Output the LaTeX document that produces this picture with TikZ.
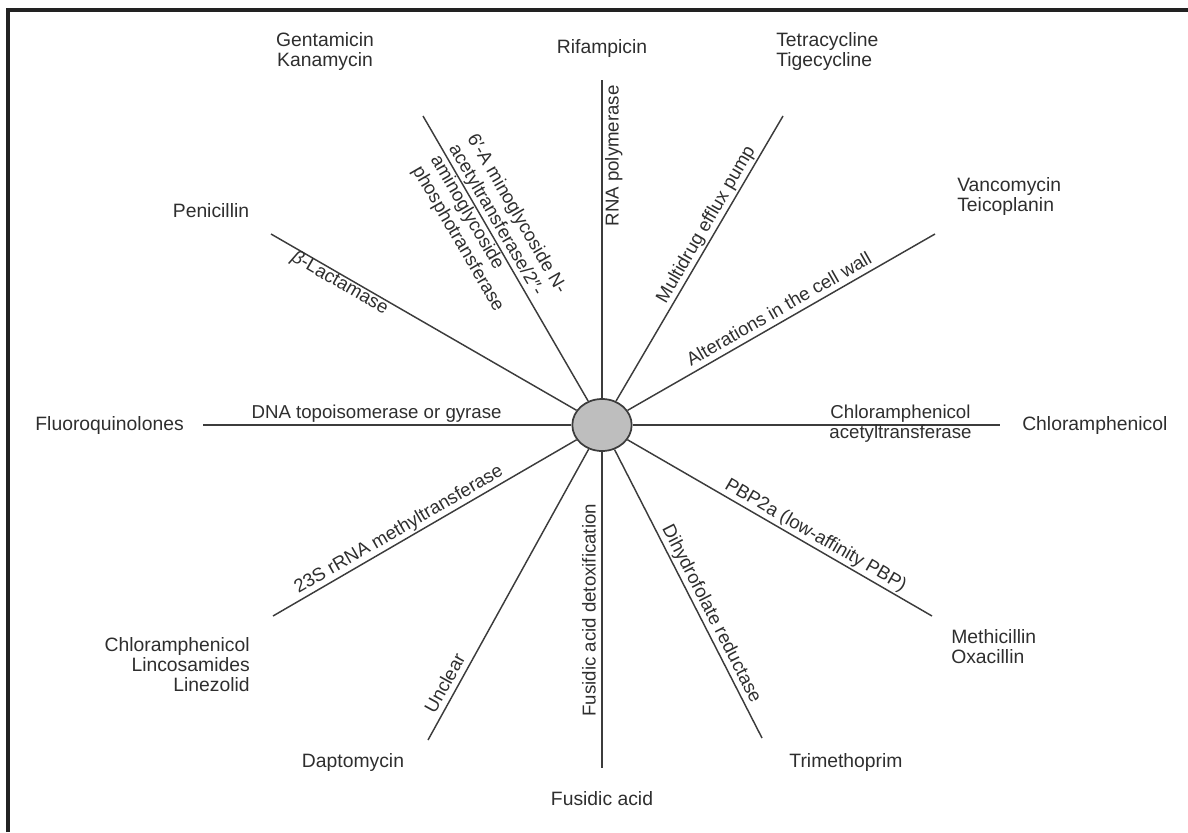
\documentclass[tikz,border=0pt]{standalone}
\usepackage{fontspec}
\setmainfont{Liberation Sans}
\usetikzlibrary{calc,shapes.geometric}
\definecolor{ink}{HTML}{2E2E2E}
\definecolor{spokecol}{HTML}{3C3C3C}
\definecolor{hubfill}{HTML}{BEBEBE}
\definecolor{framecol}{HTML}{222222}
\begin{document}
\begin{tikzpicture}[x=0.75pt,y=-0.75pt,
  drug/.style={font=\fontsize{14.5}{15}\selectfont, text=ink, inner sep=0pt},
  mech/.style={font=\fontsize{14}{15.8}\selectfont, text=ink, inner xsep=0pt, inner ysep=2.5pt},
  mechone/.style={mech, text height=0.72em, text depth=0.2em},
  spokeline/.style={draw=spokecol, line width=1.1pt},
  hub/.style={ellipse, draw=spokecol, line width=1.3pt, fill=hubfill,
    minimum width=44.5pt, minimum height=39pt, inner sep=0pt}]
\useasboundingbox (0,0) rectangle (1188,832);

% frame (top and left edges)
\draw[framecol, line width=3pt] (8,832) -- (8,10.3) -- (1188,10.3);

% central hub
\node[hub] (hub) at (602,425) {};

% outer ends of the spokes
\coordinate (eRif) at (602,80);
\coordinate (eTet) at (783,116);
\coordinate (eVan) at (935,234);
\coordinate (eChlR) at (1000,425);
\coordinate (eMet) at (932,616);
\coordinate (eTri) at (762,738);
\coordinate (eFus) at (602,768);
\coordinate (eDap) at (428,740);
\coordinate (eLin) at (273,616);
\coordinate (eFlu) at (203,425);
\coordinate (ePen) at (271,234);
\coordinate (eGen) at (423,116);

\foreach \e in {eRif,eTet,eVan,eChlR,eMet,eTri,eFus,eDap,eLin,eFlu,ePen,eGen}
  \draw[spokeline] (hub) -- (\e);

% resistance mechanisms along the spokes
\node[mechone, rotate=90, anchor=north, inner ysep=5pt] (mRif) at ($(hub.center)!0.78!(eRif)$) {RNA polymerase};
\node[mechone, rotate=59.9, anchor=south] (mTet) at ($(hub.center)!0.63!(eTet)$) {Multidrug efflux pump};
\node[mechone, rotate=29.8, anchor=south] (mVan) at ($(hub.center)!0.55!(eVan)$) {Alterations in the cell wall};
\node[mechone, anchor=south] (mChlA) at ($(hub.center)!0.75!(eChlR)$) {Chloramphenicol};
\node[mechone, anchor=north] (mChlB) at ($(hub.center)!0.75!(eChlR)$) {acetyltransferase};
\node[mechone, rotate=-30.1, anchor=south] (mMet) at ($(hub.center)!0.63!(eMet)$) {PBP2a (low-affinity PBP)};
\node[mechone, rotate=-62.9, anchor=south] (mTri) at ($(hub.center)!0.62!(eTri)$) {Dihydrofolate reductase};
\node[mechone, rotate=90, anchor=south] (mFus) at ($(hub.center)!0.54!(eFus)$) {Fusidic acid detoxification};
\node[mechone, rotate=61.1, anchor=south] (mDap) at ($(hub.center)!0.84!(eDap)$) {Unclear};
\node[mechone, rotate=30.1, anchor=south] (mLin) at ($(hub.center)!0.60!(eLin)$) {23S rRNA methyltransferase};
\node[mechone, anchor=south] (mFlu) at ($(hub.center)!0.565!(eFlu)$) {DNA topoisomerase or gyrase};
\node[mechone, rotate=-30, anchor=north] (mPen) at ($(hub.center)!0.78!(ePen)$) {\textit{β}-Lactamase};
\node[mech, inner ysep=0pt, rotate=-59.9, anchor=west, align=left] (mGen) at ($(hub.center)!0.885!(eGen)$)
  {6′-A minoglycoside N-\\acetyltransferase/2″-\\aminoglycoside\\phosphotransferase};

% antibiotics at the outer ends
\node[drug] (dRif) at (602,48) {Rifampicin};
\node[drug, align=left, anchor=west] (dTet) at (776,51) {Tetracycline\\Tigecycline};
\node[drug, align=left, anchor=west] (dVan) at (957,196) {Vancomycin\\Teicoplanin};
\node[drug, anchor=west] (dChl) at (1022,425) {Chloramphenicol};
\node[drug, align=left, anchor=west] (dMet) at (951,647) {Methicillin\\Oxacillin};
\node[drug] (dTri) at (846,762) {Trimethoprim};
\node[drug] (dFus) at (602,799) {Fusidic acid};
\node[drug] (dDap) at (353,762) {Daptomycin};
\node[drug, align=right, anchor=east] (dLin) at (250,665) {Chloramphenicol\\Lincosamides\\Linezolid};
\node[drug, anchor=east] (dFlu) at (184,425) {Fluoroquinolones};
\node[drug] (dPen) at (211,211) {Penicillin};
\node[drug, align=center] (dGen) at (325,51) {Gentamicin\\Kanamycin};
\end{tikzpicture}
\end{document}
